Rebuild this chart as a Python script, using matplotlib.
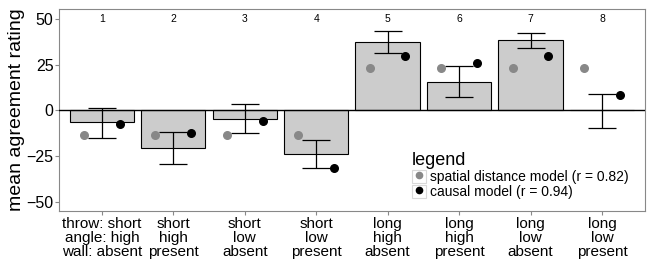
import matplotlib
matplotlib.use("Agg")
import matplotlib.pyplot as plt
from matplotlib.lines import Line2D
from matplotlib.patches import Patch
import numpy as np

# data
conditions = ["throw: short\nangle: high\nwall: absent", "short\nhigh\npresent",
              "short\nlow\nabsent", "short\nlow\npresent",
              "long\nhigh\nabsent", "long\nhigh\npresent",
              "long\nlow\nabsent", "long\nlow\npresent"]
mean_rating = [-6.5, -20.4, -4.4, -23.7, 37.3, 15.8, 38.3, 0.3]
err_upper = [1.6, -11.8, 3.6, -16.2, 43.3, 24.4, 42.6, 8.9]
err_lower = [-14.9, -29.1, -12.4, -31.3, 31.7, 7.1, 33.9, -9.5]
spatial_model = [-13.7, -13.7, -13.7, -13.7, 23.0, 23.0, 23.0, 23.0]
causal_model = [-7.3, -12.4, -6.0, -31.3, 29.7, 25.8, 29.7, 8.6]
top_labels = ["1", "2", "3", "4", "5", "6", "7", "8"]
legend_labels = ["spatial distance model (r = 0.82)", "causal model (r = 0.94)"]

plt.rcParams['font.family'] = ['Liberation Sans', 'DejaVu Sans']

fig = plt.figure(figsize=(6.5, 2.62), dpi=100)
ax = fig.add_axes([0.0908, 0.1947, 0.9012, 0.7709])

x = np.arange(1, len(conditions) + 1)
ax.bar(x, mean_rating, width=0.9, color="#cccccc", edgecolor="black", linewidth=0.8, zorder=2)
ax.axhline(0, color="black", linewidth=1.0, zorder=3)

mean_arr = np.array(mean_rating)
yerr = [mean_arr - np.array(err_lower), np.array(err_upper) - mean_arr]
ax.errorbar(x, mean_rating, yerr=yerr, fmt="none", ecolor="black", elinewidth=0.9,
            capsize=10, capthick=0.9, zorder=4)

ax.scatter(x - 0.25, spatial_model, s=30, color="#888888", zorder=5)
ax.scatter(x + 0.25, causal_model, s=30, color="black", zorder=5)

for xi, lab in zip(x, top_labels):
    ax.text(xi, 50, lab, ha="center", va="center", fontsize=7.5, color="black")

ax.set_xlim(0.4, 8.6)
ax.set_ylim(-55, 55.5)
ax.set_yticks([-50, -25, 0, 25, 50])
ax.set_yticklabels(["\u221250", "\u221225", "0", "25", "50"])
ax.set_xticks(x)
ax.set_xticklabels(conditions, fontsize=11, linespacing=1.0)
ax.tick_params(axis="y", labelsize=11.5, length=3, color="#888888", pad=1)
ax.tick_params(axis="x", length=3, color="#888888", pad=1)
ax.set_ylabel("mean agreement rating", fontsize=14, labelpad=1)
for sp in ax.spines.values():
    sp.set_color("#888888")
    sp.set_linewidth(0.8)

# legend keys drawn as a light boxed square with a dot, like ggplot
key_box = Patch(facecolor="white", edgecolor="#d9d9d9", linewidth=0.8)
handles = [(key_box, Line2D([], [], marker="o", linestyle="none", color="#888888", markersize=4.5)),
           (key_box, Line2D([], [], marker="o", linestyle="none", color="black", markersize=4.5))]
leg = ax.legend(handles, legend_labels, loc="upper left", bbox_to_anchor=(0.603, 0.292),
                title="legend", frameon=False, fontsize=10, title_fontsize=13,
                handletextpad=0.3, borderpad=0, labelspacing=0.05, handlelength=1.0,
                handleheight=1.1, borderaxespad=0)
leg._legend_box.align = "left"

fig.savefig("out.png", dpi=100)
